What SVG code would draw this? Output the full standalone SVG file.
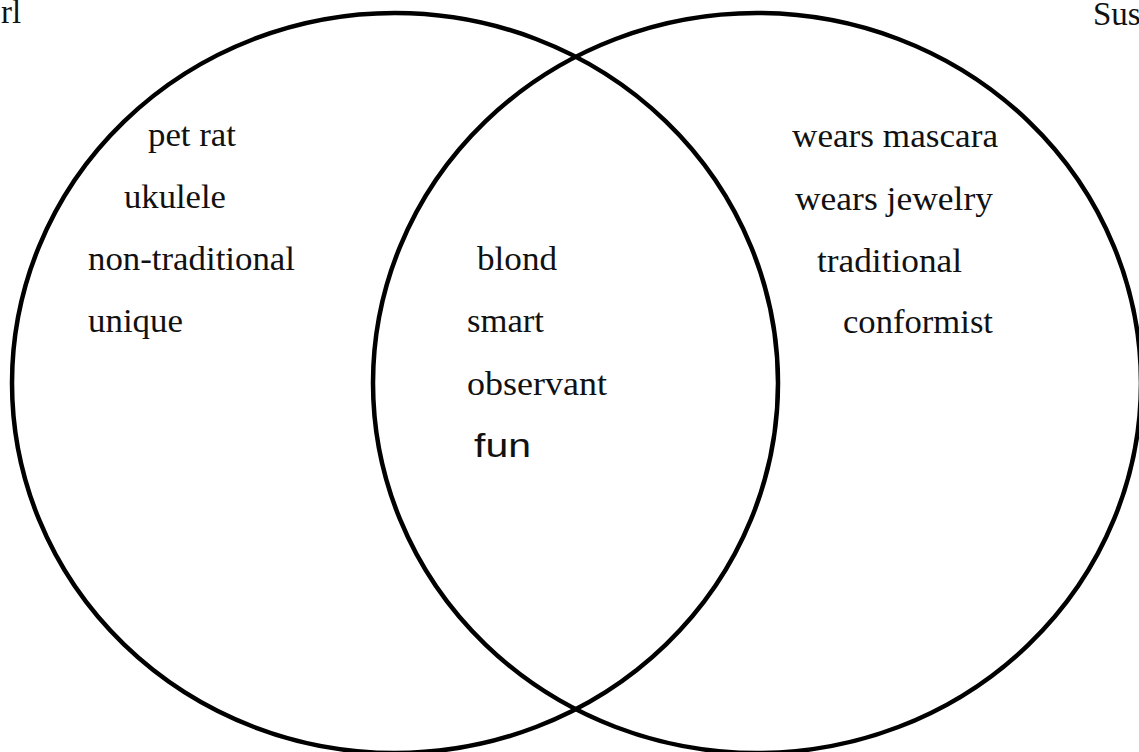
<svg xmlns="http://www.w3.org/2000/svg" width="1139" height="752" viewBox="0 0 1139 752">
<style>
.c{fill:none;stroke:#000;stroke-width:4.5}
.t{font-family:"Liberation Serif","Times New Roman",serif;font-size:33px;fill:#111}
.s{font-family:"Liberation Sans",Arial,sans-serif;font-size:33px;fill:#111}
</style>
<rect width="1139" height="752" fill="#fff"/>
<g id="circles">
<ellipse id="left" class="c" cx="395" cy="383" rx="383" ry="370"/>
<ellipse id="right" class="c" cx="757" cy="383" rx="384" ry="370"/>
</g>
<g id="labels">
<text class="t" x="1" y="23">rl</text>
<text class="t" x="1093" y="25">Sus</text>
</g>
<g id="left-only">
<text class="t" x="148" y="146" textLength="88" lengthAdjust="spacingAndGlyphs">pet rat</text>
<text class="t" x="124" y="208" textLength="102" lengthAdjust="spacingAndGlyphs">ukulele</text>
<text class="t" x="88" y="270" textLength="207" lengthAdjust="spacingAndGlyphs">non-traditional</text>
<text class="t" x="88" y="332" textLength="95" lengthAdjust="spacingAndGlyphs">unique</text>
</g>
<g id="both">
<text class="t" x="477" y="270" textLength="80" lengthAdjust="spacingAndGlyphs">blond</text>
<text class="t" x="467" y="332" textLength="77" lengthAdjust="spacingAndGlyphs">smart</text>
<text class="t" x="467" y="395" textLength="140" lengthAdjust="spacingAndGlyphs">observant</text>
<text class="s" x="474" y="457" font-size="30" textLength="57" lengthAdjust="spacingAndGlyphs">fun</text>
</g>
<g id="right-only">
<text class="t" x="792" y="147" textLength="206" lengthAdjust="spacingAndGlyphs">wears mascara</text>
<text class="t" x="795" y="210" textLength="198" lengthAdjust="spacingAndGlyphs">wears jewelry</text>
<text class="t" x="817" y="272" textLength="145" lengthAdjust="spacingAndGlyphs">traditional</text>
<text class="t" x="843" y="333" textLength="150" lengthAdjust="spacingAndGlyphs">conformist</text>
</g>
</svg>
